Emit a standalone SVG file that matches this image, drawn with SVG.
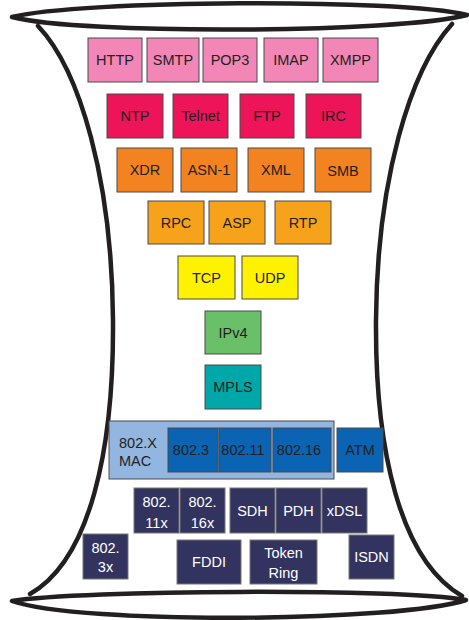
<svg xmlns="http://www.w3.org/2000/svg" width="469" height="620" viewBox="0 0 469 620">
<style>
.b{stroke:#4a4a4a;stroke-width:1}
.t{font-family:"Liberation Sans",Arial,sans-serif;font-size:14.5px;fill:#231f20;text-anchor:middle}
.w{fill:#ffffff}
.pink{fill:#f287b7}.red{fill:#ed1459}.or{fill:#f38321}.or2{fill:#f7a21b}.yel{fill:#fff200}
.grn{fill:#6abf69}.teal{fill:#00a7a8}.lb{fill:#92b6e0}.blu{fill:#0b63b3}.nav{fill:#33335f;stroke:#777}
.frame{fill:none;stroke:#231f20;stroke-width:4.5;stroke-linecap:round;stroke-linejoin:round}
</style>
<rect width="469" height="620" fill="#ffffff"/>
<g id="frame">
<path class="frame" d="M38,26 C80,70 112,180 113,320 C114,450 90,560 30,594"/>
<path class="frame" d="M452,24 C410,70 377,180 376,320 C375,450 400,560 462,596"/>
<path class="frame" d="M12,17 C80,0 400,-2 467,15 C400,33 80,35 12,17 Z"/>
<path class="frame" d="M12,601 C80,590 400,588 466,600 C400,622 80,625 12,601 Z"/>
</g>
<g id="HTTP"><rect class="b pink" x="88" y="38" width="54" height="44"/><text class="t" x="115" y="65">HTTP</text></g>
<g id="SMTP"><rect class="b pink" x="147" y="38" width="52" height="44"/><text class="t" x="173" y="65">SMTP</text></g>
<g id="POP3"><rect class="b pink" x="203" y="38" width="54" height="44"/><text class="t" x="230" y="65">POP3</text></g>
<g id="IMAP"><rect class="b pink" x="264" y="38" width="54" height="44"/><text class="t" x="291" y="65">IMAP</text></g>
<g id="XMPP"><rect class="b pink" x="323" y="38" width="55" height="44"/><text class="t" x="350.5" y="65">XMPP</text></g>

<g id="NTP"><rect class="b red" x="107" y="94" width="56" height="44"/><text class="t" x="135" y="121">NTP</text></g>
<g id="Telnet"><rect class="b red" x="173" y="94" width="55" height="44"/><text class="t" x="200.5" y="121">Telnet</text></g>
<g id="FTP"><rect class="b red" x="240" y="94" width="54" height="44"/><text class="t" x="267" y="121">FTP</text></g>
<g id="IRC"><rect class="b red" x="306" y="94" width="55" height="44"/><text class="t" x="333.5" y="121">IRC</text></g>

<g id="XDR"><rect class="b or" x="117" y="148" width="56" height="44"/><text class="t" x="145" y="175">XDR</text></g>
<g id="ASN-1"><rect class="b or" x="181" y="148" width="56" height="44"/><text class="t" x="209" y="175">ASN-1</text></g>
<g id="XML"><rect class="b or" x="248" y="148" width="56" height="44"/><text class="t" x="276" y="175">XML</text></g>
<g id="SMB"><rect class="b or" x="315" y="148" width="56" height="44"/><text class="t" x="343" y="176">SMB</text></g>

<g id="RPC"><rect class="b or2" x="148" y="201" width="56" height="43"/><text class="t" x="176" y="228">RPC</text></g>
<g id="ASP"><rect class="b or2" x="209" y="201" width="56" height="43"/><text class="t" x="237" y="228">ASP</text></g>
<g id="RTP"><rect class="b or2" x="275" y="201" width="56" height="43"/><text class="t" x="303" y="228">RTP</text></g>

<g id="TCP"><rect class="b yel" x="178" y="256" width="57" height="43"/><text class="t" x="206.5" y="283">TCP</text></g>
<g id="UDP"><rect class="b yel" x="242" y="256" width="56" height="43"/><text class="t" x="270" y="283">UDP</text></g>

<g id="IPv4"><rect class="b grn" x="205" y="311" width="56" height="43"/><text class="t" x="233" y="338">IPv4</text></g>
<g id="MPLS"><rect class="b teal" x="205" y="365" width="56" height="44"/><text class="t" x="233" y="392">MPLS</text></g>

<g id="MAC"><rect class="b lb" x="109" y="421" width="225" height="58"/><text class="t" x="119" y="448" style="text-anchor:start">802.X</text><text class="t" x="119" y="466" style="text-anchor:start">MAC</text></g>
<g id="n802-3"><rect class="b blu" x="168" y="428" width="50" height="44"/><text class="t" x="191" y="455">802.3</text></g>
<g id="n802-11"><rect class="b blu" x="219" y="428" width="52" height="44"/><text class="t" x="243" y="455">802.11</text></g>
<g id="n802-16"><rect class="b blu" x="273" y="428" width="58" height="44"/><text class="t" x="299" y="455">802.16</text></g>
<g id="ATM"><rect class="b blu" x="337" y="428" width="46" height="44"/><text class="t" x="360" y="455">ATM</text></g>

<g id="n802-11x"><rect class="nav" x="134" y="488" width="45" height="45"/><text class="t w" x="156.5" y="507">802.</text><text class="t w" x="156.5" y="528">11x</text></g>
<g id="n802-16x"><rect class="nav" x="180" y="488" width="45" height="45"/><text class="t w" x="202.5" y="507">802.</text><text class="t w" x="202.5" y="528">16x</text></g>
<g id="SDH"><rect class="nav" x="230" y="488" width="45" height="45"/><text class="t w" x="252.5" y="516">SDH</text></g>
<g id="PDH"><rect class="nav" x="276" y="488" width="45" height="45"/><text class="t w" x="298.5" y="516">PDH</text></g>
<g id="xDSL"><rect class="nav" x="322" y="488" width="45" height="45"/><text class="t w" x="344.5" y="516">xDSL</text></g>
<g id="n802-3x"><rect class="nav" x="83" y="534" width="45" height="45"/><text class="t w" x="105.5" y="553">802.</text><text class="t w" x="105.5" y="572">3x</text></g>
<g id="FDDI"><rect class="nav" x="177" y="540" width="64" height="44"/><text class="t w" x="209" y="567">FDDI</text></g>
<g id="TokenRing"><rect class="nav" x="250" y="540" width="67" height="44"/><text class="t w" x="283.5" y="558">Token</text><text class="t w" x="283.5" y="578">Ring</text></g>
<g id="ISDN"><rect class="nav" x="349" y="535" width="45" height="44"/><text class="t w" x="371.5" y="562">ISDN</text></g>
<g id="connectors"></g>
</svg>
